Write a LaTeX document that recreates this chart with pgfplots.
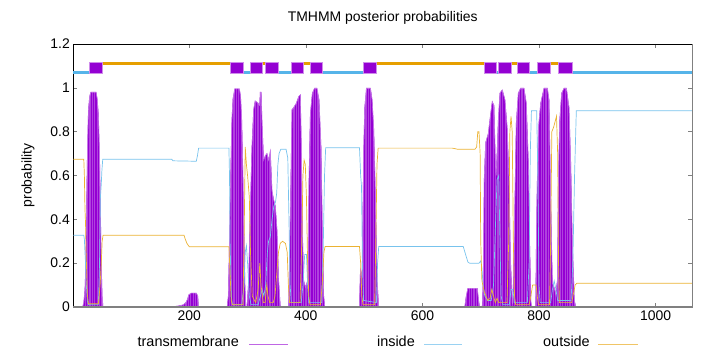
\documentclass[border=0pt]{standalone}
\usepackage{pgfplots}
\pgfplotsset{compat=1.18}
\usetikzlibrary{patterns.meta}
\usepackage{fontspec}
\setmainfont{Liberation Sans}
\definecolor{tmpurple}{HTML}{9400D3}
\definecolor{inblue}{HTML}{56B4E9}
\definecolor{outorange}{HTML}{E69F00}
\begin{document}
\begin{tikzpicture}
\useasboundingbox (-73.3bp,-45bp) rectangle (646.7bp,307bp);
\begin{axis}[
  at={(0,0)}, anchor=south west,
  scale only axis, width=619bp, height=263bp,
  xmin=1, xmax=1063, ymin=0, ymax=1.2,
  xtick={200,400,600,800,1000},
  ytick={0,0.2,0.4,0.6,0.8,1,1.2},
  tick align=inside, major tick length=4bp,
  tick style={gray, line width=0.5bp},
  axis line style={black, line width=0.6bp},
  /pgf/number format/1000 sep={},
  /pgf/number format/assume math mode=true,
  tick label style={font=\fontsize{14}{16}\selectfont},
  title={TMHMM posterior probabilities},
  title style={font=\fontsize{14}{16}\selectfont, at={(axis description cs:0.5,1)}, anchor=base, yshift=17bp},
  ylabel={probability},
  ylabel style={font=\fontsize{14}{16}\selectfont, at={(axis description cs:-0.0732,0.5)}, anchor=center},
  clip=false,
]
% transmembrane posterior (impulses drawn as striped filled area)
\addplot[draw=tmpurple!55!white, line width=0.6bp, fill=tmpurple!74!white,
  postaction={pattern={Lines[angle=90, distance=2.4bp, line width=1.3bp]}, pattern color=tmpurple}] coordinates {
(1,0) (17,0) (19,0.02) (21,0.08) (22.5,0.2) (24,0.5) (25.5,0.75) (27,0.9) (29,0.96) (31,0.98) (40,0.98) (42,0.95) (44,0.88) (46,0.7) (47.5,0.45) (49,0.2) (50.5,0.05) (52,0)
(85,0) (90,0.003) (100,0.003) (105,0)
(165,0) (180,0.004) (190,0.01) (194,0.02) (197,0.035) (199,0.055) (203,0.063) (212,0.063) (214.5,0.05) (216,0)
(265,0) (267,0.05) (269,0.3) (271,0.6) (273,0.85) (275,0.95) (278,0.995) (286,0.995) (288,0.96) (290,0.85) (292,0.6) (294,0.3) (295.5,0.1) (297,0)
(299,0) (301.8,0.12) (304.6,0.43) (307.5,0.73) (310.4,0.9) (313,0.94) (318,0.93) (320.7,0.92) (321.8,0.98) (323.3,0.98) (324.7,0.85) (327.5,0.67) (330.4,0.69) (333.3,0.70) (336.1,0.67) (339,0.71) (341.9,0.53) (344.7,0.49) (347.6,0.46) (350.5,0.35) (353.3,0.12) (356.2,0)
(370.5,0) (373.4,0.43) (376.2,0.90) (379.1,0.91) (383.7,0.93) (387.7,0.96) (390.5,0.968) (392.3,0.73) (394,0.35) (396.3,0.12) (399.1,0.09) (403.1,0.12) (405.4,0.58) (407.7,0.88) (411.2,0.976) (415,0.998) (419,0.998) (422.6,0.945) (426,0.73) (428.3,0.35) (430.6,0.05) (432.4,0)
(491.9,0) (493.6,0.17) (496.5,0.14) (499.3,0.73) (501,0.91) (503.9,0.998) (510.8,0.998) (513.6,0.945) (516.5,0.81) (519.4,0.50) (522.2,0.12) (525.1,0)
(645,0) (660,0.003) (672.8,0.003) (675,0.047) (678,0.085) (694,0.085) (696.3,0.032) (698,0)
(702.6,0) (704.3,0.12) (706,0.58) (708.4,0.75) (712.9,0.79) (717,0.88) (719.8,0.937) (722.7,0.92) (725,0.68) (726.5,0.6) (728,0.7) (730.1,0.85) (733,0.976) (737,0.99) (741.6,0.945) (745.6,0.81) (748.4,0.58) (751.3,0.2) (754.2,0.016) (755.3,0.02) (758.2,0.43) (761,0.84) (764.5,0.976) (768.5,0.998) (774.2,0.998) (778.2,0.93) (781.7,0.66) (784,0.28) (786.2,0.02) (788,0)
(794.3,0) (796,0.43) (798.8,0.81) (802.9,0.93) (808.6,0.998) (814.3,0.998) (817.2,0.945) (820,0.50) (822.9,0.108) (825.8,0.09) (828.6,0.06) (831.5,0.12) (833.2,0.58) (835.5,0.85) (838.9,0.976) (843,0.998) (847,0.998) (851.5,0.91) (854.4,0.66) (857.3,0.28) (860.7,0.03) (863,0)
(1063,0)
} \closedcycle;
% inside posterior
\addplot[inblue!80!white, line width=0.7bp] coordinates {
(1,0.327) (19,0.327) (20,0.31) (21,0.25) (22,0.2) (23,0.12) (25,0.03) (27,0.01) (44,0.01) (46,0.2) (47.5,0.5) (49,0.56) (50,0.62) (51.5,0.674) (170,0.674) (172,0.667) (212,0.665) (214,0.69) (216,0.725) (268,0.725) (269,0.6) (270,0.3) (272,0.05) (274,0.01)
(290,0.01) (294,0.1) (296,0.25) (298,0.28) (300,0.2) (303,0.05) (306,0.01) (318,0.01) (322,0.05) (325,0.08) (328,0.05) (331,0.1) (334,0.25) (336,0.3) (339,0.32) (342,0.4) (345,0.46) (348,0.48) (350,0.52) (352,0.65) (354,0.7) (357,0.72) (366,0.72) (369,0.68) (371,0.4) (373,0.1) (375,0.02) (392,0.02) (395,0.1) (398,0.24) (401,0.24) (403,0.1) (405,0.02) (427,0.02) (430,0.3) (432,0.6) (434,0.727) (492,0.727) (494,0.6) (495.5,0.55) (497,0.2) (499,0.03) (521,0.02) (523,0.2) (525,0.276) (670,0.276) (674,0.24) (678,0.205) (681,0.2) (697,0.2) (700,0.21) (702,0.18) (704,0.1) (707,0.05)
(712,0.03) (718,0.03) (722,0.1) (725,0.35) (728,0.58) (731,0.6) (733,0.3) (735,0.05) (738,0.01) (749,0.01) (752,0.08) (755,0.08) (758,0.02) (780,0.02) (783,0.2) (785,0.7) (787,0.895) (796,0.895) (798,0.6) (800,0.1) (802,0.02) (820,0.02) (823,0.08) (826,0.12) (829,0.08) (832,0.03) (855,0.03) (858,0.2) (861,0.6) (864,0.895) (1063,0.895)
};
% outside posterior
\addplot[outorange!80!white, line width=0.7bp] coordinates {
(1,0.674) (19,0.674) (20,0.6) (21,0.45) (22,0.38) (23,0.25) (25,0.06) (27,0.015) (44,0.015) (45,0.04) (47,0.1) (49,0.2) (50.5,0.3) (52,0.327) (191,0.327) (193,0.31) (196,0.29) (200,0.275) (268,0.275) (270,0.15) (272,0.03) (274,0.01) (292,0.01) (294,0.3) (296,0.73) (298,0.65) (300,0.6) (303,0.5) (305,0.25) (308,0.05) (314,0.02) (318,0.08) (321,0.2) (323,0.1) (327,0.02) (330,0.02) (333,0.1) (335,0.05) (338,0.02) (344,0.02) (347,0.05) (350,0.15) (353,0.25) (356,0.29) (360,0.3) (365,0.29) (368,0.25) (370,0.1) (372,0.02) (390,0.02) (393,0.3) (395,0.6) (397,0.67) (399,0.65) (401,0.5) (403,0.2) (405,0.05) (407,0.01) (425,0.01) (428,0.1) (431,0.25) (433,0.276) (492,0.276) (494,0.2) (496,0.05) (498,0.01) (518,0.01) (520,0.3) (522,0.65) (524,0.725) (651,0.725) (660,0.72) (690,0.72) (693,0.73) (695,0.8) (697,0.8) (699,0.7) (700,0.3) (702,0.12) (706,0.07) (712,0.03) (716,0.04) (719,0.08) (722,0.05) (725,0.02) (728,0.04) (731,0.02) (745,0.02) (748,0.3) (750,0.8) (752,0.87) (754,0.8) (756,0.3) (758,0.05) (760,0.01) (783,0.01) (786,0.05) (789,0.1) (795,0.1) (797,0.05) (799,0.01) (818,0.01) (820,0.3) (822,0.8) (825,0.82) (828,0.85) (830,0.87) (832,0.7) (833.5,0.2) (835,0.02) (856,0.02) (859,0.06) (862,0.1) (865,0.108) (1063,0.108)
};
% topology bar: inside segments
\addplot[inblue, line width=2.6bp, unbounded coords=jump] coordinates {
(1,1.07) (28,1.07) (nan,nan) (292,1.07) (304,1.07) (nan,nan) (353,1.07) (375,1.07) (nan,nan) (428,1.07) (499,1.07) (nan,nan) (726,1.07) (731,1.07) (nan,nan) (784,1.07) (798,1.07) (nan,nan) (857,1.07) (1063,1.07)
};
% topology bar: outside segments
\addplot[outorange, line width=2.6bp, unbounded coords=jump] coordinates {
(51,1.11) (270,1.11) (nan,nan) (325,1.11) (331,1.11) (nan,nan) (396,1.11) (407,1.11) (nan,nan) (521,1.11) (707,1.11) (nan,nan) (753,1.11) (762,1.11) (nan,nan) (820,1.11) (834,1.11)
};
% topology bar: transmembrane boxes
\addplot[fill=tmpurple, draw=tmpurple!45!white, line width=0.7bp] coordinates {(28,1.066) (51,1.066) (51,1.114) (28,1.114)} -- cycle;
\addplot[fill=tmpurple, draw=tmpurple!45!white, line width=0.7bp] coordinates {(270,1.066) (292,1.066) (292,1.114) (270,1.114)} -- cycle;
\addplot[fill=tmpurple, draw=tmpurple!45!white, line width=0.7bp] coordinates {(304,1.066) (325,1.066) (325,1.114) (304,1.114)} -- cycle;
\addplot[fill=tmpurple, draw=tmpurple!45!white, line width=0.7bp] coordinates {(331,1.066) (353,1.066) (353,1.114) (331,1.114)} -- cycle;
\addplot[fill=tmpurple, draw=tmpurple!45!white, line width=0.7bp] coordinates {(375,1.066) (396,1.066) (396,1.114) (375,1.114)} -- cycle;
\addplot[fill=tmpurple, draw=tmpurple!45!white, line width=0.7bp] coordinates {(407,1.066) (428,1.066) (428,1.114) (407,1.114)} -- cycle;
\addplot[fill=tmpurple, draw=tmpurple!45!white, line width=0.7bp] coordinates {(499,1.066) (521,1.066) (521,1.114) (499,1.114)} -- cycle;
\addplot[fill=tmpurple, draw=tmpurple!45!white, line width=0.7bp] coordinates {(707,1.066) (726,1.066) (726,1.114) (707,1.114)} -- cycle;
\addplot[fill=tmpurple, draw=tmpurple!45!white, line width=0.7bp] coordinates {(731,1.066) (753,1.066) (753,1.114) (731,1.114)} -- cycle;
\addplot[fill=tmpurple, draw=tmpurple!45!white, line width=0.7bp] coordinates {(762,1.066) (784,1.066) (784,1.114) (762,1.114)} -- cycle;
\addplot[fill=tmpurple, draw=tmpurple!45!white, line width=0.7bp] coordinates {(798,1.066) (820,1.066) (820,1.114) (798,1.114)} -- cycle;
\addplot[fill=tmpurple, draw=tmpurple!45!white, line width=0.7bp] coordinates {(834,1.066) (857,1.066) (857,1.114) (834,1.114)} -- cycle;
% gray bottom and right border
\draw[gray, line width=1.6bp] (rel axis cs:0,0) -- (rel axis cs:1,0) -- (rel axis cs:1,1);
% legend
\node[anchor=mid east, font=\fontsize{14.5}{16}\selectfont, inner sep=0pt] at (axis description cs:0.2677,-0.1407) {transmembrane};
\draw[tmpurple!60!white, line width=0.8bp] (axis description cs:0.2839,-0.1407) -- (axis description cs:0.3468,-0.1407);
\node[anchor=mid east, font=\fontsize{14.5}{16}\selectfont, inner sep=0pt] at (axis description cs:0.5520,-0.1407) {inside};
\draw[inblue!60!white, line width=0.8bp] (axis description cs:0.5666,-0.1407) -- (axis description cs:0.6280,-0.1407);
\node[anchor=mid east, font=\fontsize{14.5}{16}\selectfont, inner sep=0pt] at (axis description cs:0.8347,-0.1407) {outside};
\draw[outorange!60!white, line width=0.8bp] (axis description cs:0.8477,-0.1407) -- (axis description cs:0.9123,-0.1407);
\end{axis}
\end{tikzpicture}
\end{document}
